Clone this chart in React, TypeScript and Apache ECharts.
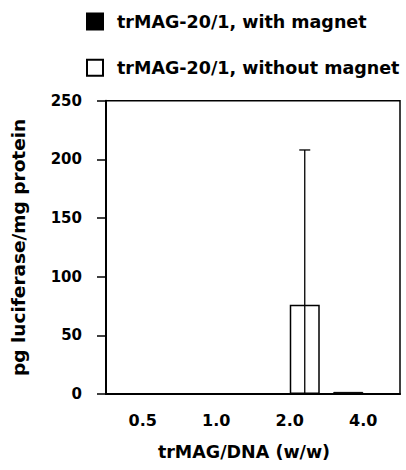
import React, { useEffect, useRef } from "react";
import * as echarts from "echarts";

const categories = ["0.5", "1.0", "2.0", "4.0"];
const withMagnet = [0.1, 0.1, 0.8, 1.8];
const withoutMagnet = [0.1, 0.1, 76, 0.5];
const withoutMagnetSD = [0, 0, 132, 0];
const yTicks = [0, 50, 100, 150, 200, 250];

const FONT = "DejaVu Sans";
const BAR_W = 30;

export default function App() {
  const ref = useRef<HTMLDivElement>(null);
  useEffect(() => {
    if (!ref.current) return;
    const chart = echarts.init(ref.current, null, { renderer: "svg" });
    chart.setOption({
      animation: false,
      backgroundColor: "#fff",
      legend: {
        orient: "vertical",
        left: 81,
        top: 7.5,
        itemWidth: 16,
        itemHeight: 16,
        itemGap: 28.25,
        icon: "rect",
        data: ["trMAG-20/1, with magnet", "trMAG-20/1, without magnet"],
        textStyle: {
          fontFamily: FONT,
          fontWeight: "bold",
          fontSize: 17.5,
          color: "#000",
          padding: [0, 0, 0, 9],
        },
      },
      grid: {
        left: 106,
        right: 6,
        top: 100.7,
        bottom: 76,
        show: true,
        borderColor: "#000",
        borderWidth: 1.5,
        backgroundColor: "transparent",
      },
      xAxis: {
        type: "category",
        data: categories,
        name: "trMAG/DNA (w/w)",
        nameLocation: "middle",
        nameGap: 49,
        nameTextStyle: {
          fontFamily: FONT,
          fontWeight: "bold",
          fontSize: 17.5,
          color: "#000",
          padding: [0, 18, 0, 0],
        },
        axisLine: { lineStyle: { color: "#000", width: 2 } },
        axisTick: { alignWithLabel: true, length: 8, lineStyle: { color: "#000", width: 1.5 } },
        axisLabel: {
          margin: 18,
          fontFamily: FONT,
          fontWeight: "bold",
          fontSize: 16,
          color: "#000",
        },
        splitLine: { show: false },
      },
      yAxis: {
        type: "value",
        min: yTicks[0],
        max: yTicks[yTicks.length - 1],
        interval: 50,
        name: "pg luciferase/mg protein",
        nameLocation: "middle",
        nameGap: 78,
        nameTextStyle: {
          fontFamily: FONT,
          fontWeight: "bold",
          fontSize: 18.5,
          color: "#000",
        },
        axisLine: { show: true, lineStyle: { color: "#000", width: 2 } },
        axisTick: { show: true, length: 9, lineStyle: { color: "#000", width: 1.5 } },
        axisLabel: {
          margin: 24,
          fontFamily: FONT,
          fontWeight: "bold",
          fontSize: 15,
          color: "#000",
        },
        splitLine: { show: false },
      },
      series: [
        {
          name: "trMAG-20/1, with magnet",
          type: "bar",
          data: withMagnet,
          barWidth: BAR_W,
          barGap: "0%",
          itemStyle: { color: "#000", borderColor: "#000", borderWidth: 1 },
        },
        {
          name: "trMAG-20/1, without magnet",
          type: "bar",
          data: withoutMagnet,
          barWidth: BAR_W,
          barGap: "0%",
          itemStyle: { color: "#fff", borderColor: "#000", borderWidth: 1.5 },
        },
        {
          name: "error",
          type: "custom",
          z: 5,
          data: categories.map((_, i) => [i, withoutMagnet[i], withoutMagnetSD[i]]),
          renderItem: (params: any, api: any) => {
            const cat = api.value(0);
            const mean = api.value(1);
            const sd = api.value(2);
            if (!sd) return null;
            const top = api.coord([cat, mean + sd]);
            const bot = api.coord([cat, Math.max(0, mean - sd)]);
            const x = top[0] + BAR_W / 2;
            const style = { stroke: "#000", lineWidth: 1.3 };
            return {
              type: "group",
              children: [
                { type: "line", shape: { x1: x, y1: top[1], x2: x, y2: bot[1] }, style },
                { type: "line", shape: { x1: x - 5.5, y1: top[1], x2: x + 5.5, y2: top[1] }, style },
              ],
            };
          },
        },
      ],
    });
    return () => chart.dispose();
  }, []);
  return (
    <div
      ref={ref}
      style={{ position: "fixed", left: 0, top: 0, width: 406, height: 470 }}
    />
  );
}
